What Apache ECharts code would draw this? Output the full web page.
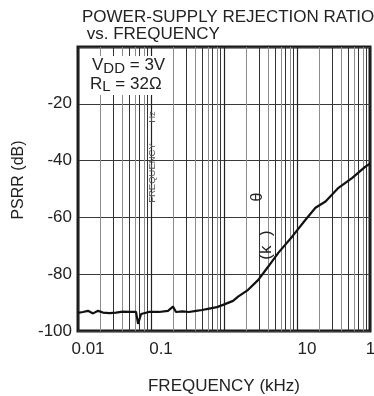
<!DOCTYPE html>
<html>
<head>
<meta charset="utf-8">
<script src="https://cdn.jsdelivr.net/npm/echarts@6/dist/echarts.min.js"></script>
<style>
  html, body { margin: 0; padding: 0; background: #fff; }
  #psrrBox { width: 374px; height: 396px; }
</style>
</head>
<body>
<div id="psrrBox"></div>
<script>
// PSRR vs frequency, VDD = 3V, RL = 32 ohm

var freq = [0.01, 0.0117, 0.0137, 0.0161, 0.0188, 0.022, 0.027, 0.0332, 0.041, 0.05, 0.0624, 0.0665, 0.0731, 0.0934,
    0.129, 0.171, 0.2, 0.22, 0.27, 0.33, 0.415, 0.5, 0.627, 0.8, 0.97, 1.02, 1.33, 1.56, 2.14, 2.95, 4.04, 5.54,
    8.62, 13.0, 17.9, 24.6, 37.0, 57.2, 86.4, 100];
var psrr = [-93.6, -93.3, -92.9, -93.8, -92.9, -93.5, -93.7, -93.5, -93.2, -93.3, -93.3, -97.5, -94.0, -93.3,
    -93.3, -92.9, -91.4, -93.3, -93.1, -93.3, -92.9, -92.6, -92.1, -91.6, -90.8, -90.5, -89.4, -87.9, -85.5, -82.0, -77.3, -72.5,
    -66.7, -60.9, -56.6, -54.4, -49.6, -46.1, -42.1, -41.1];

var xTickValues = [0.01, 0.1, 1, 10, 100];
var xTickLabels = ['0.01', '0.1', '', '10', '100'];
var decades = [0.01, 0.1, 1, 10];
var minorMults = [2, 3, 4, 5, 6, 7, 8, 9];

function xLabel(v) {
    for (var i = 0; i < xTickValues.length; i++) {
        if (Math.abs(Math.log10(v) - Math.log10(xTickValues[i])) < 1e-6) return xTickLabels[i];
    }
    return '';
}

// minor grid lines of the log paper
var minorLines = [];
decades.forEach(function (d) {
    minorMults.forEach(function (m) {
        minorLines.push({
            xAxis: d * m,
            lineStyle: { color: m % 2 ? '#333' : '#8c8c8c', width: 1, type: 'solid' }
        });
    });
});

var FONT = '"Liberation Sans", Arial, sans-serif';

var myChart = echarts.init(document.getElementById('psrrBox'));
var option = {
    animation: false,
    title: {
        text: 'POWER-SUPPLY REJECTION RATIO\n vs. FREQUENCY',
        left: 82,
        top: 9,
        padding: 0,
        textStyle: {
            fontFamily: FONT,
            fontSize: 17,
            fontWeight: 'normal',
            lineHeight: 17,
            color: '#222'
        }
    },
    grid: {
        left: 78,
        right: 4,
        top: 47,
        bottom: 65,
        outerBoundsMode: 'none',
        show: true,
        borderWidth: 3,
        borderColor: '#1a1a1a',
        backgroundColor: '#fff'
    },
    xAxis: {
        type: 'log',
        logBase: 10,
        min: 0.01,
        max: 100,
        name: 'FREQUENCY (kHz)',
        nameLocation: 'middle',
        nameGap: 47,
        nameTextStyle: { fontFamily: FONT, fontSize: 17, color: '#222' },
        axisLine: { show: false },
        axisTick: { show: false },
        axisLabel: {
            margin: 10,
            fontFamily: FONT,
            fontSize: 17,
            color: '#222',
            padding: [0, 0, 0, 20],
            hideOverlap: false,
            formatter: xLabel
        },
        splitLine: { show: true, lineStyle: { color: '#222', width: 1.2 } }
    },
    yAxis: {
        type: 'value',
        min: -100,
        max: 0,
        interval: 20,
        name: 'PSRR (dB)',
        nameLocation: 'middle',
        nameGap: 35,
        nameTextStyle: { fontFamily: FONT, fontSize: 16, color: '#222', padding: [0, 0, 0, 18] },
        axisLine: { show: false },
        axisTick: { show: false },
        axisLabel: {
            margin: 6,
            fontFamily: FONT,
            fontSize: 17,
            color: '#222',
            formatter: function (v) { return v === 0 ? '' : v; }
        },
        splitLine: { show: true, lineStyle: { color: '#3a3a3a', width: 1 } }
    },
    series: [
        {
            type: 'line',
            data: [],
            z: 1,
            silent: true,
            markLine: {
                z: 1,
                silent: true,
                symbol: ['none', 'none'],
                label: { show: false },
                animation: false,
                data: minorLines
            }
        },
        {
            type: 'line',
            z: 10,
            data: freq.map(function (f, i) { return [f, psrr[i]]; }),
            showSymbol: false,
            symbol: 'none',
            lineStyle: { color: '#111', width: 2.2 }
        }
    ],
    graphic: [
        {
            type: 'rect',
            z: 20,
            shape: { x: 80, y: 56, width: 90, height: 39 },
            style: { fill: '#fff' }
        },
        {
            type: 'text',
            z: 21,
            x: 92,
            y: 65.5,
            style: {
                text: 'V{s|DD} = 3V',
                font: '17px ' + FONT,
                fill: '#222',
                verticalAlign: 'middle',
                rich: { s: { fontSize: 15, fontFamily: FONT, padding: [6, 0, 0, 0] } }
            }
        },
        {
            type: 'text',
            z: 21,
            x: 90,
            y: 84,
            style: {
                text: 'R{s|L} = 32\u03A9',
                font: '17px ' + FONT,
                fill: '#222',
                verticalAlign: 'middle',
                rich: { s: { fontSize: 15, fontFamily: FONT, padding: [6, 0, 0, 0] } }
            }
        },
        {
            type: 'text',
            z: 21,
            x: 152,
            y: 173,
            rotation: Math.PI / 2,
            style: { text: 'FREQUENCY', font: '9.5px ' + FONT, fill: '#555', align: 'center', verticalAlign: 'middle' }
        },
        {
            type: 'text',
            z: 21,
            x: 152,
            y: 117,
            rotation: Math.PI / 2,
            style: { text: 'Hz', font: '9.5px ' + FONT, fill: '#555', align: 'center', verticalAlign: 'middle' }
        },
        {
            type: 'text',
            z: 21,
            x: 258,
            y: 197,
            rotation: Math.PI / 2,
            style: { text: '\u03B8', font: '16px ' + FONT, fill: '#222', align: 'center', verticalAlign: 'middle' }
        },
        {
            type: 'text',
            z: 21,
            x: 266,
            y: 245,
            rotation: Math.PI / 2,
            style: { text: '(k  )', font: '17px ' + FONT, fill: '#222', align: 'center', verticalAlign: 'middle' }
        }
    ]
};
myChart.setOption(option);
</script>
</body>
</html>
